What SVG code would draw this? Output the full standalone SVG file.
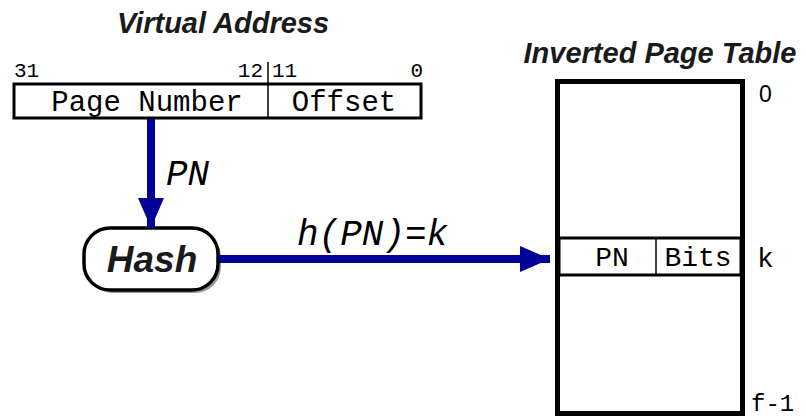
<svg xmlns="http://www.w3.org/2000/svg" width="806" height="419" viewBox="0 0 806 419">
<style>
.title{font-family:"Liberation Sans",Arial,sans-serif;font-weight:bold;font-style:italic;font-size:29px;fill:#1a1a1a}
.mono{font-family:"Liberation Mono","Courier New",monospace;fill:#000}
.it{font-family:"Liberation Mono","Courier New",monospace;font-style:italic;fill:#000}
.box{fill:#fff;stroke:#000}
.arr{stroke:#000099;stroke-width:8;fill:none}
</style>
<defs>
<marker id="ah" markerUnits="userSpaceOnUse" markerWidth="30" markerHeight="26" refX="30" refY="13" orient="auto">
<path d="M0,0 L30,13 L0,26 Z" fill="#000099"/>
</marker>
</defs>
<rect width="806" height="419" fill="#fff"/>
<g id="virtual-address">
<text class="title" x="223" y="33" text-anchor="middle">Virtual Address</text>
<text class="mono" x="14" y="77" font-size="21">31</text>
<text class="mono" x="263" y="77" font-size="21" text-anchor="end">12</text>
<line x1="268" y1="62" x2="268" y2="83" stroke="#000" stroke-width="1.5"/>
<text class="mono" x="272" y="77" font-size="21">11</text>
<text class="mono" x="423" y="77" font-size="21" text-anchor="end">0</text>
<rect class="box" x="14" y="84" width="407" height="34" stroke-width="3"/>
<line x1="268" y1="84" x2="268" y2="118" stroke="#000" stroke-width="1.5"/>
<text class="mono" x="147" y="111" font-size="29" text-anchor="middle">Page Number</text>
<text class="mono" x="344" y="111" font-size="29" text-anchor="middle">Offset</text>
</g>
<g id="hash">
<rect x="87" y="231" width="134" height="62" rx="26" fill="#999"/>
<rect class="box" x="84" y="228" width="134" height="62" rx="26" stroke-width="3.5"/>
<text x="152" y="272" text-anchor="middle" font-family="Liberation Sans,Arial,sans-serif" font-weight="bold" font-style="italic" font-size="37" fill="#1a1a1a">Hash</text>
</g>
<g id="page-table">
<text class="title" x="660" y="63" text-anchor="middle">Inverted Page Table</text>
<rect class="box" x="557.5" y="81.5" width="185" height="332" stroke-width="5"/>
<rect class="box" x="559" y="238" width="182" height="37" stroke-width="3"/>
<line x1="656" y1="238" x2="656" y2="275" stroke="#000" stroke-width="1.5"/>
<text class="mono" x="612" y="266" font-size="28" text-anchor="middle">PN</text>
<text class="mono" x="698" y="266" font-size="28" text-anchor="middle">Bits</text>
<text x="759" y="102" font-family="Liberation Sans,Arial,sans-serif" font-size="23" fill="#000">0</text>
<text class="mono" x="757" y="267" font-size="28">k</text>
<text class="mono" x="751" y="411" font-size="24">f-1</text>
</g>
<g id="connectors">
<line class="arr" x1="151" y1="119" x2="151" y2="228" marker-end="url(#ah)"/>
<text class="it" x="166" y="185" font-size="36">PN</text>
<line class="arr" x1="219" y1="259" x2="550" y2="259" marker-end="url(#ah)"/>
<text class="it" x="297" y="245" font-size="36">h(PN)=k</text>
</g>
</svg>
